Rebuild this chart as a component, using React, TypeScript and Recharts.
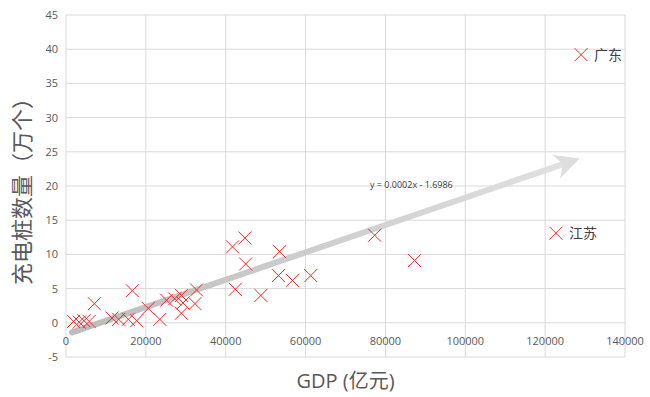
import React from "react";
import {
  ScatterChart,
  Scatter,
  XAxis,
  YAxis,
  CartesianGrid,
  ReferenceDot,
} from "recharts";

// GDP (亿元) vs 充电桩数量 (万个), one entry per province
const gdp = [
  1900, 3300, 4500, 5800, 7100, 11500, 13200, 15600, 16600, 17700, 20600,
  23500, 25200, 27200, 28900, 29300, 28900, 32300, 32700, 41700, 44800,
  45000, 53500, 53200, 56700, 61300, 42400, 48800, 77300, 87300, 122700,
  129000,
];
const piles = [
  0.2, 0.1, 0.3, 0.2, 2.8, 0.7, 0.5, 0.5, 4.7, 0.3, 2.1, 0.5, 3.3, 3.5, 4.0,
  2.9, 1.4, 2.8, 4.8, 11.1, 12.4, 8.6, 10.4, 6.9, 6.2, 6.9, 4.9, 4.0, 12.8,
  9.1, 13.1, 39.2,
];
const provinceLabels = gdp.map((_, i) =>
  i === gdp.length - 1 ? "广东" : i === gdp.length - 2 ? "江苏" : ""
);

const xTicks = [0, 20000, 40000, 60000, 80000, 100000, 120000, 140000];
const yTicks = [-5, 0, 5, 10, 15, 20, 25, 30, 35, 40, 45];

// linear trend shown on the chart
const trendSlope = 0.0002;
const trendIntercept = -1.6986;
const trendRange = [1500, 124500];
const trendText = "y = 0.0002x - 1.6986";

const points = gdp.map((x, i) => ({ x, y: piles[i], name: provinceLabels[i] }));
const trendPoints = trendRange.map((x) => ({
  x,
  y: trendSlope * x + trendIntercept,
}));

const FONT = "'Open Sans', 'Noto Sans CJK SC', sans-serif";

const CrossMark = (props: any) => {
  const { cx, cy } = props;
  const name = props.payload?.name ?? props.name;
  const s = 6.5;
  return (
    <g>
      <line x1={cx - s} y1={cy - s} x2={cx + s} y2={cy + s} stroke="#f02a2a" strokeWidth={1} />
      <line x1={cx - s} y1={cy + s} x2={cx + s} y2={cy - s} stroke="#f02a2a" strokeWidth={1} />
      {name ? (
        <text x={cx + 13} y={cy} dy="0.35em" fontSize={14} fill="#404040" fontFamily={FONT}>
          {name}
        </text>
      ) : null}
    </g>
  );
};

const XTick = (props: any) => {
  const { x, y, payload } = props;
  return (
    <text x={x} y={y - 24} dy="0.35em" textAnchor="middle" fontSize={11} fill="#595959" fontFamily={FONT}>
      {payload.value}
    </text>
  );
};

export default function App() {
  return (
    <div style={{ position: "absolute", left: 0, top: 0, background: "#fff" }}>
      <ScatterChart
        width={650}
        height={397}
        margin={{ top: 15, right: 25, bottom: 0, left: 0 }}
      >
        <defs>
          <linearGradient id="trendGrad" x1="0" y1="0" x2="1" y2="0">
            <stop offset="0%" stopColor="#bcbcbc" />
            <stop offset="100%" stopColor="#e0e0e0" />
          </linearGradient>
          <marker
            id="trendArrow"
            viewBox="0 0 10 10"
            refX="3"
            refY="5"
            markerWidth="4.2"
            markerHeight="4.2"
            orient="auto"
            markerUnits="strokeWidth"
          >
            <path d="M0,0 L10,5 L0,10 L3,5 Z" fill="#dedede" />
          </marker>
        </defs>
        <CartesianGrid stroke="#d9d9d9" strokeDasharray="" />
        <XAxis
          type="number"
          dataKey="x"
          domain={[0, 140000]}
          ticks={xTicks}
          axisLine={false}
          tickLine={false}
          tick={<XTick />}
          height={40}
          label={{
            value: "GDP (亿元)",
            position: "center",
            dy: 4,
            fontSize: 20,
            fill: "#595959",
            fontFamily: FONT,
          }}
        />
        <YAxis
          type="number"
          dataKey="y"
          domain={[-5, 45]}
          ticks={yTicks}
          axisLine={false}
          tickLine={false}
          width={66}
          tick={{ fontSize: 11, fill: "#595959", fontFamily: FONT }}
          label={{
            value: "充电桩数量（万个）",
            angle: -90,
            position: "center",
            dx: -11,
            fontSize: 22,
            fill: "#595959",
            fontFamily: FONT,
          }}
        />
        <Scatter
          data={trendPoints}
          shape={() => <g />}
          line={{
            stroke: "url(#trendGrad)",
            strokeWidth: 6,
            strokeLinecap: "round",
            markerEnd: "url(#trendArrow)",
          }}
          isAnimationActive={false}
        />
        <Scatter data={points} shape={<CrossMark />} isAnimationActive={false} />
        <ReferenceDot
          x={86500}
          y={20.2}
          r={0}
          fill="none"
          stroke="none"
          label={{
            value: trendText,
            position: "center",
            fontSize: 9,
            fill: "#404040",
            fontFamily: FONT,
          }}
        />
      </ScatterChart>
    </div>
  );
}
